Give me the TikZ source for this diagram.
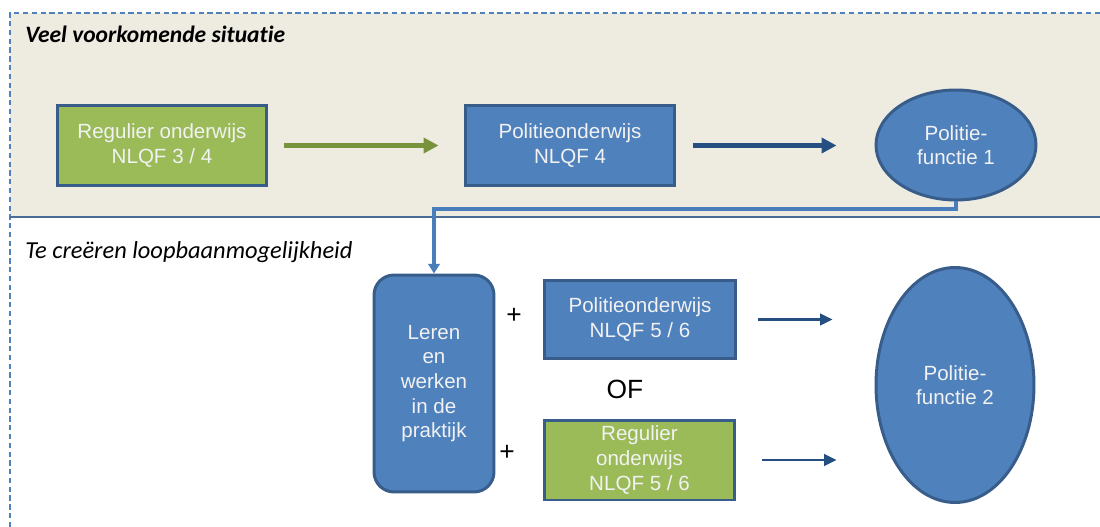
\documentclass[tikz,border=0pt]{standalone}
\usepackage{fontspec}
\setmainfont{Liberation Sans}
\newfontfamily\titlefont[Ligatures=NoCommon]{Carlito}
\usetikzlibrary{shapes.geometric,arrows.meta}
\definecolor{panelbg}{HTML}{EEECE1}
\definecolor{framecol}{HTML}{4F81BD}
\definecolor{sepcol}{HTML}{4A6C9B}
\definecolor{boxblue}{HTML}{4F81BD}
\definecolor{boxgreen}{HTML}{9BBB59}
\definecolor{edgeblue}{HTML}{385D8A}
\definecolor{arrgreen}{HTML}{77933C}
\definecolor{arrdark}{HTML}{254F80}
\definecolor{linkblue}{HTML}{4A7EBB}
\definecolor{boxtext}{HTML}{F2F2F2}
\tikzset{
  boxbase/.style={draw=edgeblue, line width=1.7pt, text=boxtext, align=center,
    font=\fontsize{11.7}{14}\selectfont, inner sep=0pt},
  bluebox/.style={boxbase, fill=boxblue, rectangle},
  greenbox/.style={boxbase, fill=boxgreen, rectangle},
  blueell/.style={boxbase, fill=boxblue, ellipse},
  greenarrow/.style={draw=arrgreen, line width=2.4pt, -{Triangle[length=8.5pt,width=8.5pt]}},
  darkarrow/.style={draw=arrdark, line width=2.4pt, -{Triangle[length=8.5pt,width=8.5pt]}},
  smallarrow/.style={draw=arrdark, line width=1.5pt, -{Triangle[length=7pt,width=6.5pt]}},
  linkarrow/.style={draw=linkblue, line width=1.8pt, -{Triangle[length=5.5pt,width=6.5pt]}},
  heading/.style={anchor=base west, inner sep=0pt, font=\titlefont\fontsize{13.9}{16}\selectfont\itshape},
  sign/.style={inner sep=0pt, font=\fontsize{15}{17}\selectfont}
}
\begin{document}
\begin{tikzpicture}[x=0.02cm, y=-0.02cm]
\useasboundingbox (0,0) rectangle (1100,527);
\fill[white] (0,0) rectangle (1100,527);
% upper panel
\fill[panelbg] (10,13) rectangle (1100,217);
\draw[framecol, line width=0.6pt, dash pattern=on 3pt off 2pt] (1100,13) -- (10,13) -- (10,527);
\draw[sepcol, line width=0.7pt] (10,217) -- (1100,217);

\node[heading, font=\titlefont\fontsize{13.4}{16}\selectfont\bfseries\itshape] (h1) at (25,43) {Veel voorkomende situatie};
\node[heading] (h2) at (25,258) {Te creëren loopbaanmogelijkheid};

% upper row
\node[greenbox, minimum width=4.2cm, minimum height=1.6cm] (reg1) at (162,145.5) {Regulier onderwijs\\NLQF 3 / 4};
\node[bluebox, minimum width=4.2cm, minimum height=1.62cm] (pol1) at (570,145.5) {Politieonderwijs\\NLQF 4};
\node[blueell, minimum width=3.2cm, minimum height=2.2cm] (fun1) at (956,145) {Politie-\\functie 1};

\draw[greenarrow, shorten <=0.32cm, shorten >=0.5cm] (reg1.east) -- (reg1.east -| pol1.west);
\draw[darkarrow, shorten <=0.34cm, shorten >=0.76cm] (pol1.east) -- (pol1.east -| fun1.west);

% lower part
\node[bluebox, rounded corners=0.4cm, minimum width=2.4cm, minimum height=4.34cm] (leren) at (434,383.5) {Leren\\en\\werken\\in de\\praktijk};
\node[bluebox, minimum width=3.84cm, minimum height=1.58cm] (pol2) at (640,319.5) {Politieonderwijs\\NLQF 5 / 6};
\node[greenbox, minimum width=3.82cm, minimum height=1.6cm] (reg2) at (639.5,460) {Regulier\\onderwijs\\NLQF 5 / 6};
\node[blueell, minimum width=3.16cm, minimum height=4.7cm] (fun2) at (955,385) {Politie-\\functie 2};

\node[sign] (plus1) at (514,316) {+};
\node[sign] (plus2) at (507,453) {+};
\node[sign] (of) at (625,389) {OF};

\draw[smallarrow, shorten <=0.42cm, shorten >=0.84cm] (pol2.east) -- (pol2.east -| fun2.west);
\draw[smallarrow, shorten <=0.52cm, shorten >=0.76cm] (reg2.east) -- (reg2.east -| fun2.west);

% link from function 1 down to practice box
\coordinate (bend) at (956,209);
\draw[linkarrow] (fun1.south) -- (bend) -| (leren.north);
\end{tikzpicture}
\end{document}
